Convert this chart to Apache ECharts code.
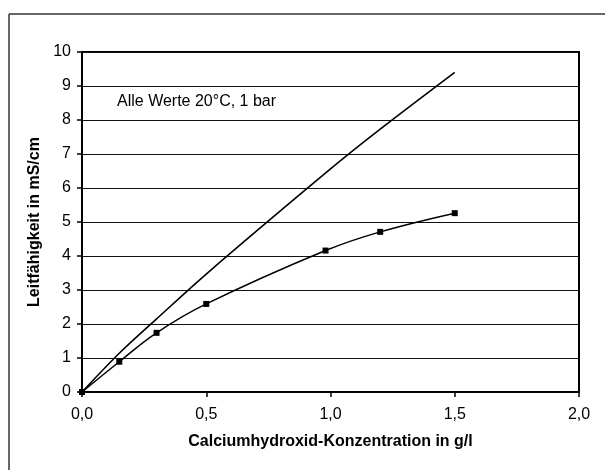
<!DOCTYPE html>
<html>
<head>
<meta charset="utf-8">
<script src="https://cdn.jsdelivr.net/npm/echarts@6/dist/echarts.min.js"></script>
<style>
html,body{margin:0;padding:0;background:#fff;}
#chart{width:605px;height:470px;}
</style>
</head>
<body>
<div id="chart"></div>
<script>
// Data
const measuredX = [0, 0.15, 0.3, 0.5, 0.98, 1.2, 1.5];
const measuredY = [0, 0.89, 1.74, 2.59, 4.16, 4.71, 5.26];
const theoryX = [0, 0.15, 0.3, 0.5, 1.0, 1.2, 1.5];
const theoryY = [0, 1.14, 2.15, 3.47, 6.56, 7.73, 9.4];
const xTicks = [0, 0.5, 1.0, 1.5, 2.0];
const yTicks = [0, 1, 2, 3, 4, 5, 6, 7, 8, 9, 10];
const xTitle = 'Calciumhydroxid-Konzentration in g/l';
const yTitle = 'Leitfähigkeit in mS/cm';
const note = 'Alle Werte 20°C, 1 bar';

const FONT = '"Liberation Sans", Arial, sans-serif';
const chart = echarts.init(document.getElementById('chart'), null, {renderer: 'canvas'});
chart.setOption({
  backgroundColor: '#fff',
  animation: false,
  grid: {left: 82, right: 26, top: 52, bottom: 78, show: true, borderColor: '#000', borderWidth: 2, backgroundColor: 'transparent'},
  graphic: [
    {type: 'line', shape: {x1: 9, y1: 14, x2: 605, y2: 14}, style: {stroke: '#333', lineWidth: 1.5}, silent: true},
    {type: 'line', shape: {x1: 9, y1: 14, x2: 9, y2: 470}, style: {stroke: '#333', lineWidth: 1.5}, silent: true},
    {type: 'text', left: 117, top: 94, style: {text: note, font: '16px ' + FONT, fill: '#000'}, silent: true}
  ],
  xAxis: {
    type: 'value', min: xTicks[0], max: xTicks[xTicks.length - 1], interval: 0.5,
    name: xTitle, nameLocation: 'middle', nameGap: 42,
    nameTextStyle: {fontFamily: FONT, fontSize: 16, fontWeight: 'bold', color: '#000'},
    axisLine: {show: true, lineStyle: {color: '#000', width: 1.5}},
    axisTick: {show: true, inside: false, length: 5, lineStyle: {color: '#000', width: 1.5}},
    axisLabel: {margin: 15, fontFamily: FONT, fontSize: 16, color: '#000',
      formatter: v => v.toFixed(1).replace('.', ',')},
    splitLine: {show: false}
  },
  yAxis: {
    type: 'value', min: yTicks[0], max: yTicks[yTicks.length - 1], interval: 1,
    name: yTitle, nameLocation: 'middle', nameGap: 39,
    nameTextStyle: {fontFamily: FONT, fontSize: 16, fontWeight: 'bold', color: '#000'},
    axisLine: {show: true, lineStyle: {color: '#000', width: 2}},
    axisTick: {show: true, inside: false, length: 5, lineStyle: {color: '#000', width: 1.5}},
    axisLabel: {margin: 11, fontFamily: FONT, fontSize: 16, color: '#000'},
    splitLine: {show: true, lineStyle: {color: '#111', width: 1}}
  },
  series: [
    {
      type: 'line', name: 'theorie',
      data: theoryX.map((x, i) => [x, theoryY[i]]),
      smooth: 0.3, showSymbol: false, symbol: 'none',
      lineStyle: {color: '#000', width: 1.6}, z: 3
    },
    {
      type: 'line', name: 'messung',
      data: measuredX.map((x, i) => [x, measuredY[i]]),
      smooth: 0.4, symbol: 'rect', symbolSize: 6,
      itemStyle: {color: '#000'},
      lineStyle: {color: '#000', width: 1.5}, z: 4
    }
  ]
});
</script>
</body>
</html>
